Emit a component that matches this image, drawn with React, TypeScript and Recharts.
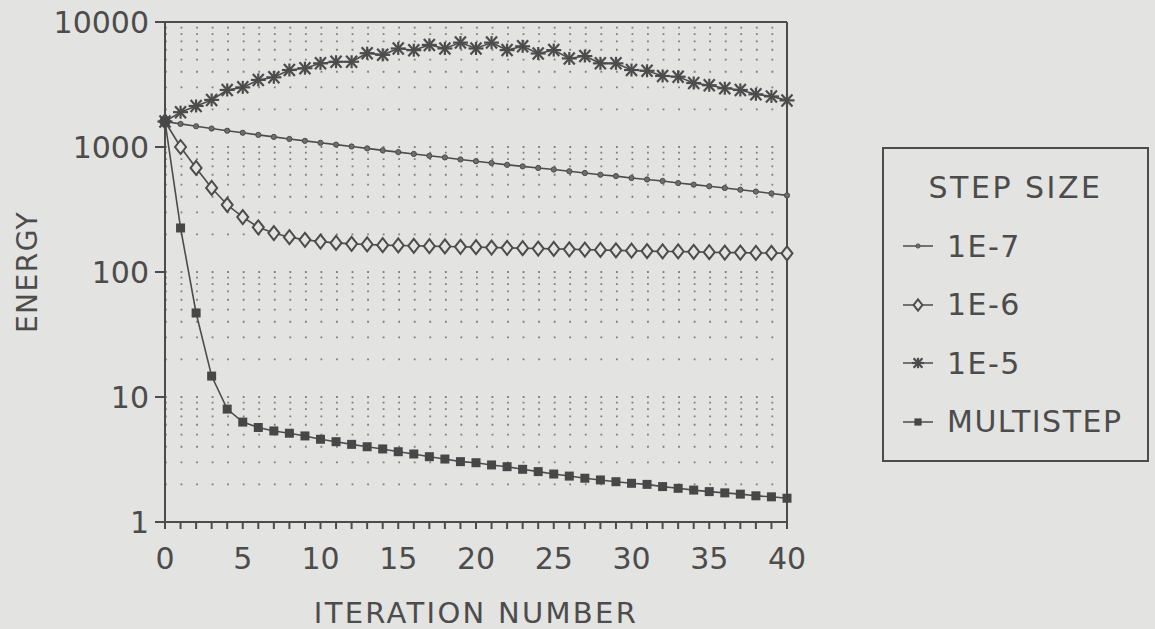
import {
  LineChart,
  Line,
  XAxis,
  YAxis,
  Legend,
  ReferenceLine,
} from "recharts"

const iterations = Array.from({ length: 41 }, (_, i) => i)

const step1e7 = [
  1600, 1530, 1465, 1405, 1350, 1300, 1250, 1205, 1160, 1120, 1080, 1045, 1010, 975, 940, 910,
  880, 850, 825, 795, 770, 745, 720, 700, 680, 660, 640, 620, 600, 585, 565, 550, 535, 515, 500,
  485, 470, 455, 440, 425, 410,
]
const step1e6 = [
  1600, 1000, 680, 470, 345, 275, 228, 205, 190, 181, 175, 171, 168, 166, 164, 163, 162, 161, 160,
  159, 158, 157, 156, 155, 154, 153, 152, 151, 150, 149, 148, 147, 146, 146, 145, 144, 143, 143,
  142, 142, 141,
]
const step1e5 = [
  1600, 1900, 2130, 2380, 2860, 3000, 3440, 3610, 4130, 4270, 4670, 4810, 4810, 5630, 5460, 6140,
  5950, 6560, 6140, 6840, 6140, 6840, 5960, 6390, 5600, 5960, 5110, 5340, 4670, 4670, 4130, 4070,
  3700, 3650, 3250, 3120, 2950, 2860, 2640, 2540, 2360,
]
const multistep = [
  1600, 225, 47, 14.7, 8.0, 6.3, 5.7, 5.35, 5.13, 4.88, 4.59, 4.39, 4.18, 4.0, 3.84, 3.65, 3.5,
  3.33, 3.19, 3.04, 2.98, 2.86, 2.77, 2.64, 2.53, 2.42, 2.33, 2.24, 2.17, 2.1, 2.04, 2.0, 1.92,
  1.86, 1.8, 1.75, 1.71, 1.67, 1.62, 1.59, 1.55,
]

const yTicks = [1, 10, 100, 1000, 10000]
const xLabelTicks = [0, 5, 10, 15, 20, 25, 30, 35, 40]
const gridRows = [
  2, 3, 4, 5, 6, 7, 8, 9, 10, 20, 30, 40, 50, 60, 70, 80, 90, 100, 200, 300, 400, 500, 600, 700,
  800, 900, 1000, 2000, 3000, 4000, 5000, 6000, 7000, 8000, 9000,
]

const series = [
  { key: "s7", name: "1E-7", values: step1e7, marker: "dot" },
  { key: "s6", name: "1E-6", values: step1e6, marker: "diamond" },
  { key: "s5", name: "1E-5", values: step1e5, marker: "star" },
  { key: "ms", name: "MULTISTEP", values: multistep, marker: "square" },
]

const data = iterations.map((it, i) => {
  const row: Record<string, number> = { it }
  series.forEach((s) => (row[s.key] = s.values[i]))
  return row
})

const BG = "#e3e3e1"
const INK = "#4c4c4c"
const FONT = '"DejaVu Sans", sans-serif'

function Marker({ kind, cx, cy, s = 1 }: { kind: string; cx?: number; cy?: number; s?: number }) {
  if (cx == null || cy == null) return null
  if (kind === "dot")
    return <circle cx={cx} cy={cy} r={2.6 * s} fill="#6e6e6e" stroke={INK} strokeWidth={1} />
  if (kind === "diamond")
    return (
      <path
        d={`M${cx},${cy - 7 * s}L${cx + 5.5 * s},${cy}L${cx},${cy + 7 * s}L${cx - 5.5 * s},${cy}Z`}
        fill={BG}
        stroke={INK}
        strokeWidth={2}
      />
    )
  if (kind === "star")
    return (
      <g stroke={INK} strokeWidth={2.2}>
        <line x1={cx - 7.5 * s} y1={cy} x2={cx + 7.5 * s} y2={cy} />
        <line x1={cx - 5.5 * s} y1={cy - 6 * s} x2={cx + 5.5 * s} y2={cy + 6 * s} />
        <line x1={cx - 5.5 * s} y1={cy + 6 * s} x2={cx + 5.5 * s} y2={cy - 6 * s} />
        <line x1={cx} y1={cy - 6.5 * s} x2={cx} y2={cy + 6.5 * s} />
      </g>
    )
  return <rect x={cx - 4.5 * s} y={cy - 4.5 * s} width={9 * s} height={9 * s} fill="#474747" />
}

function LegendBox({ payload }: any) {
  // keep the original legend order rather than the payload's
  const items = [...(payload || [])].sort(
    (a: any, b: any) =>
      series.findIndex((s) => s.name === a.value) - series.findIndex((s) => s.name === b.value),
  )
  return (
    <div
      style={{
        position: "relative",
        width: 267,
        height: 315,
        border: `2px solid ${INK}`,
        boxSizing: "border-box",
        fontFamily: FONT,
        color: INK,
        fontSize: 30,
      }}
    >
      <div style={{ position: "absolute", left: 0, width: "100%", top: 21, textAlign: "center", letterSpacing: 2.5 }}>
        STEP SIZE
      </div>
      {items.map((entry: any, i: number) => {
        const s = series.find((x) => x.name === entry.value)
        return (
          <div key={entry.value} style={{ position: "absolute", left: 16, top: 80 + i * 58.5, height: 34, display: "flex", alignItems: "center" }}>
            <svg width={36} height={34}>
              <line x1={3} y1={17} x2={33} y2={17} stroke={INK} strokeWidth={1.5} />
              <Marker kind={s ? s.marker : "dot"} cx={18} cy={17} s={0.8} />
            </svg>
            <span style={{ marginLeft: 11, letterSpacing: 1.5 }}>{entry.value}</span>
          </div>
        )
      })}
    </div>
  )
}

export default function App() {
  return (
    <div style={{ position: "fixed", left: 0, top: 0, width: 1155, height: 629, background: BG }}>
      <LineChart
        width={1155}
        height={629}
        data={data}
        margin={{ top: 22, right: 368, left: 0, bottom: 47 }}
      >
        {gridRows.map((v) => (
          <ReferenceLine
            key={v}
            y={v}
            stroke="#7e7e7e"
            strokeWidth={1.8}
            strokeDasharray="1.8 13.75"
          />
        ))}
        <ReferenceLine y={10000} stroke={INK} strokeWidth={2} />
        <ReferenceLine x={40} stroke={INK} strokeWidth={2} />
        <XAxis
          dataKey="it"
          type="number"
          domain={[0, 40]}
          ticks={iterations}
          interval={0}
          tickFormatter={(v) => (xLabelTicks.includes(v) ? String(v) : "")}
          height={60}
          tickSize={7}
          tickMargin={19}
          stroke={INK}
          strokeWidth={2}
          tick={{ fill: INK, fontSize: 30, fontFamily: FONT }}
          label={{
            value: "ITERATION NUMBER",
            position: "bottom",
            offset: 20,
            fill: INK,
            fontSize: 29,
            fontFamily: FONT,
            letterSpacing: 2.3,
          }}
        />
        <YAxis
          scale="log"
          domain={[1, 10000]}
          allowDataOverflow
          ticks={yTicks}
          width={165}
          tickSize={10}
          tickMargin={6}
          stroke={INK}
          strokeWidth={2}
          tick={{ fill: INK, fontSize: 30, fontFamily: FONT }}
          label={{
            value: "ENERGY",
            angle: -90,
            position: "insideLeft",
            offset: 27,
            fill: INK,
            fontSize: 28,
            fontFamily: FONT,
            letterSpacing: 1.5,
            style: { textAnchor: "middle" },
          }}
        />
        <Legend
          layout="horizontal"
          verticalAlign="middle"
          align="center"
          content={<LegendBox />}
          wrapperStyle={{ left: 882, top: 147, width: 267, height: 315 }}
        />
        {series.map((s) => (
          <Line
            key={s.key}
            dataKey={s.key}
            name={s.name}
            type="linear"
            stroke={INK}
            strokeWidth={1.6}
            isAnimationActive={false}
            dot={(p: any) => <Marker key={`${s.key}-${p.index}`} kind={s.marker} cx={p.cx} cy={p.cy} />}
          />
        ))}
      </LineChart>
    </div>
  )
}
